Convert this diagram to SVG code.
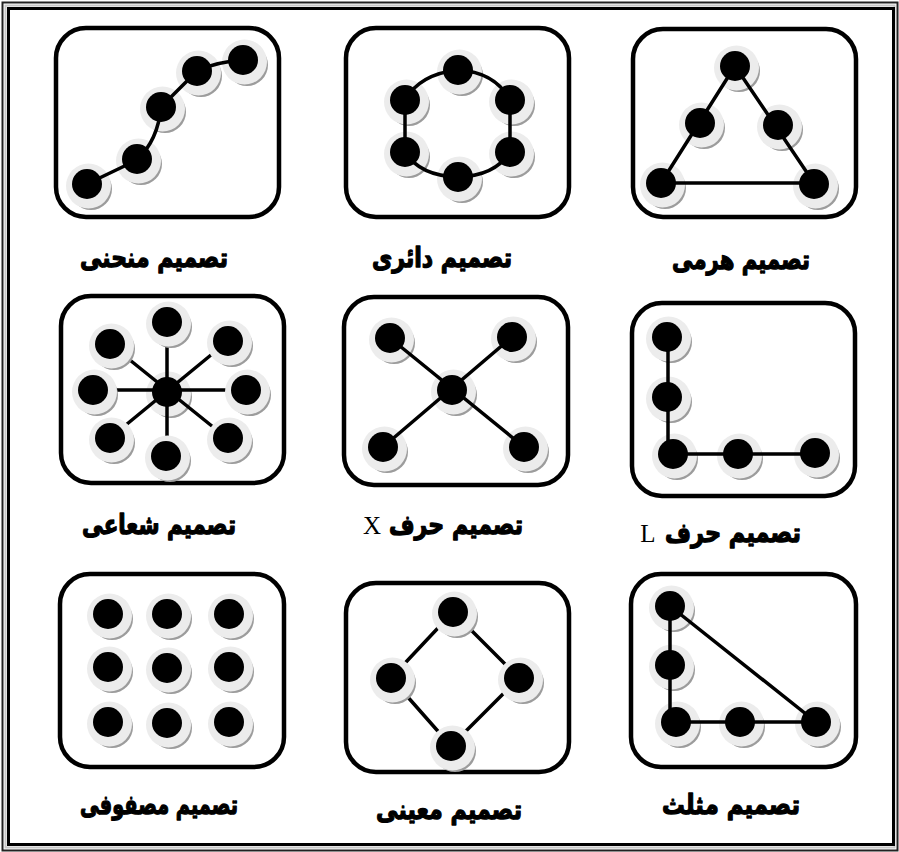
<svg xmlns="http://www.w3.org/2000/svg" xmlns:xlink="http://www.w3.org/1999/xlink" width="899" height="852" viewBox="0 0 899 852">
<style>
.frame{fill:#fff;stroke:#000;stroke-width:4.5}
.ln{fill:none;stroke:#000;stroke-width:3.5;stroke-linecap:round;stroke-linejoin:round}
.lbl{font-family:"DejaVu Sans",sans-serif;font-weight:bold;font-size:27px;fill:#000;stroke:#000;stroke-width:1.3;stroke-linejoin:round;text-anchor:middle}
.lat{font-family:"Liberation Serif",serif;font-size:25px;fill:#000;text-anchor:middle}
</style>
<defs>
<g id="nd">
<circle cx="4" cy="5" r="21" fill="#9c9c9c"/>
<circle cx="1.5" cy="2" r="22.5" fill="#ececec"/>
<circle cx="0" cy="0" r="15" fill="#000"/>
</g>
</defs>
<rect x="0" y="0" width="899" height="852" fill="#fff"/>
<g id="border">
<rect x="2.5" y="2.5" width="895" height="848" fill="none" stroke="#222" stroke-width="2"/>
<rect x="5.5" y="5.5" width="889" height="842" fill="none" stroke="#c8c8c8" stroke-width="2"/>
<rect x="8.5" y="8.5" width="885" height="836" fill="none" stroke="#000" stroke-width="3"/>
</g>

<!-- Panel 1: curve -->
<g id="p1">
<rect class="frame" x="56" y="28" width="223" height="189" rx="30"/>
<g id="p1-n1"><use xlink:href="#nd" x="87" y="184"/></g>
<g id="p1-n2"><use xlink:href="#nd" x="137" y="159"/></g>
<g id="p1-n3"><use xlink:href="#nd" x="161" y="107"/></g>
<g id="p1-n4"><use xlink:href="#nd" x="197" y="71"/></g>
<g id="p1-n5"><use xlink:href="#nd" x="243" y="60"/></g>
<g id="p1-conn"><path class="ln" d="M87,184 L137,160 Q158,140 161,107 L197,71 Q215,62 243,60"/></g>
<text class="lbl" x="154" y="267" textLength="148" lengthAdjust="spacingAndGlyphs">تصميم منحنى</text>
</g>

<!-- Panel 2: circle -->
<g id="p2">
<rect class="frame" x="346" y="28" width="223" height="189" rx="30"/>
<g id="p2-n1"><use xlink:href="#nd" x="458" y="70"/></g>
<g id="p2-n2"><use xlink:href="#nd" x="510" y="100"/></g>
<g id="p2-n3"><use xlink:href="#nd" x="510" y="152"/></g>
<g id="p2-n4"><use xlink:href="#nd" x="458" y="177"/></g>
<g id="p2-n5"><use xlink:href="#nd" x="405" y="152"/></g>
<g id="p2-n6"><use xlink:href="#nd" x="405" y="100"/></g>
<g id="p2-conn"><path class="ln" d="M405,100 Q420,74 458,70 Q495,72 510,100 L510,152 Q495,176 458,177 Q420,176 405,152 Z"/></g>
<text class="lbl" x="442" y="267" textLength="140" lengthAdjust="spacingAndGlyphs">تصميم دائرى</text>
</g>

<!-- Panel 3: pyramid -->
<g id="p3">
<rect class="frame" x="633" y="29" width="223" height="188" rx="30"/>
<g id="p3-n1"><use xlink:href="#nd" x="735" y="66"/></g>
<g id="p3-n2"><use xlink:href="#nd" x="700" y="123"/></g>
<g id="p3-n3"><use xlink:href="#nd" x="778" y="125"/></g>
<g id="p3-n4"><use xlink:href="#nd" x="661" y="183"/></g>
<g id="p3-n5"><use xlink:href="#nd" x="814" y="184"/></g>
<g id="p3-conn"><path class="ln" d="M735,66 L661,183 L814,183 Z"/></g>
<text class="lbl" x="741" y="269" textLength="138" lengthAdjust="spacingAndGlyphs">تصميم هرمى</text>
</g>

<!-- Panel 4: radial -->
<g id="p4">
<rect class="frame" x="61" y="296" width="223" height="187" rx="30"/>
<g id="p4-n0"><use xlink:href="#nd" x="167" y="392"/></g>
<g id="p4-conn">
<path class="ln" d="M110,344 L228,439 M228,341 L110,438 M93,390 L246,390 M167,322 L167,456"/>
</g>
<g id="p4-n1"><use xlink:href="#nd" x="167" y="322"/></g>
<g id="p4-n2"><use xlink:href="#nd" x="110" y="344"/></g>
<g id="p4-n3"><use xlink:href="#nd" x="228" y="341"/></g>
<g id="p4-n4"><use xlink:href="#nd" x="93" y="390"/></g>
<g id="p4-n5"><use xlink:href="#nd" x="246" y="390"/></g>
<g id="p4-n6"><use xlink:href="#nd" x="110" y="438"/></g>
<g id="p4-n7"><use xlink:href="#nd" x="166" y="456"/></g>
<g id="p4-n8"><use xlink:href="#nd" x="228" y="438"/></g>
<text class="lbl" x="159" y="534" textLength="154" lengthAdjust="spacingAndGlyphs">تصميم شعاعى</text>
</g>

<!-- Panel 5: X -->
<g id="p5">
<rect class="frame" x="344" y="297" width="224" height="188" rx="30"/>
<g id="p5-n0"><use xlink:href="#nd" x="452" y="390"/></g>
<g id="p5-n1"><use xlink:href="#nd" x="390" y="338"/></g>
<g id="p5-n2"><use xlink:href="#nd" x="512" y="337"/></g>
<g id="p5-n3"><use xlink:href="#nd" x="383" y="447"/></g>
<g id="p5-n4"><use xlink:href="#nd" x="524" y="447"/></g>
<g id="p5-conn"><path class="ln" d="M390,338 L524,447 M512,337 L383,447"/></g>
<text class="lbl" x="456" y="534" textLength="134" lengthAdjust="spacingAndGlyphs">تصميم حرف</text>
<text class="lat" x="372" y="534">X</text>
</g>

<!-- Panel 6: L -->
<g id="p6">
<rect class="frame" x="632" y="303" width="223" height="193" rx="30"/>
<g id="p6-n1"><use xlink:href="#nd" x="667" y="337"/></g>
<g id="p6-n2"><use xlink:href="#nd" x="667" y="397"/></g>
<g id="p6-n3"><use xlink:href="#nd" x="673" y="454"/></g>
<g id="p6-n4"><use xlink:href="#nd" x="738" y="454"/></g>
<g id="p6-n5"><use xlink:href="#nd" x="815" y="453"/></g>
<g id="p6-conn"><path class="ln" d="M668,337 L668,454 L815,454"/></g>
<text class="lbl" x="733" y="542" textLength="136" lengthAdjust="spacingAndGlyphs">تصميم حرف</text>
<text class="lat" x="648" y="542">L</text>
</g>

<!-- Panel 7: matrix -->
<g id="p7">
<rect class="frame" x="60" y="574" width="224" height="193" rx="30"/>
<g id="p7-n1"><use xlink:href="#nd" x="108" y="614"/></g>
<g id="p7-n2"><use xlink:href="#nd" x="167" y="614"/></g>
<g id="p7-n3"><use xlink:href="#nd" x="229" y="614"/></g>
<g id="p7-n4"><use xlink:href="#nd" x="108" y="667"/></g>
<g id="p7-n5"><use xlink:href="#nd" x="167" y="668"/></g>
<g id="p7-n6"><use xlink:href="#nd" x="229" y="667"/></g>
<g id="p7-n7"><use xlink:href="#nd" x="108" y="722"/></g>
<g id="p7-n8"><use xlink:href="#nd" x="167" y="723"/></g>
<g id="p7-n9"><use xlink:href="#nd" x="229" y="722"/></g>
<text class="lbl" x="159" y="814" textLength="158" lengthAdjust="spacingAndGlyphs">تصميم مصفوفى</text>
</g>

<!-- Panel 8: rhombus -->
<g id="p8">
<rect class="frame" x="346" y="583" width="223" height="189" rx="30"/>
<g id="p8-conn"><path class="ln" d="M453,612 L519,678 L451,746 L391,678 Z"/></g>
<g id="p8-n1"><use xlink:href="#nd" x="453" y="612"/></g>
<g id="p8-n2"><use xlink:href="#nd" x="391" y="678"/></g>
<g id="p8-n3"><use xlink:href="#nd" x="519" y="678"/></g>
<g id="p8-n4"><use xlink:href="#nd" x="451" y="746"/></g>
<text class="lbl" x="449" y="819" textLength="146" lengthAdjust="spacingAndGlyphs">تصميم معينى</text>
</g>

<!-- Panel 9: triangle -->
<g id="p9">
<rect class="frame" x="631" y="574" width="225" height="193" rx="30"/>
<g id="p9-n1"><use xlink:href="#nd" x="670" y="606"/></g>
<g id="p9-n2"><use xlink:href="#nd" x="670" y="665"/></g>
<g id="p9-n3"><use xlink:href="#nd" x="676" y="722"/></g>
<g id="p9-n4"><use xlink:href="#nd" x="740" y="722"/></g>
<g id="p9-n5"><use xlink:href="#nd" x="816" y="722"/></g>
<g id="p9-conn"><path class="ln" d="M670,606 L670,722 L816,722 Z"/></g>
<text class="lbl" x="731" y="814" textLength="138" lengthAdjust="spacingAndGlyphs">تصميم مثلث</text>
</g>
</svg>
